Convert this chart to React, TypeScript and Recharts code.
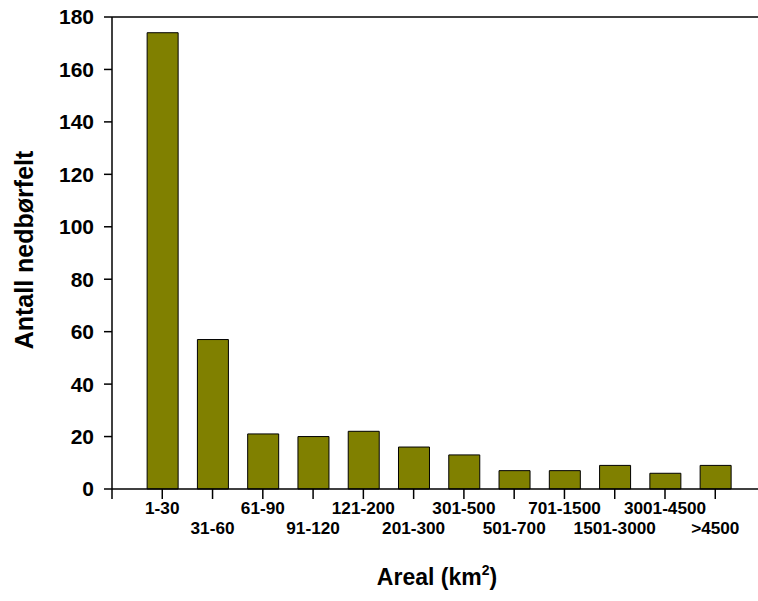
import { Bar, BarChart, Label, ReferenceLine, XAxis, YAxis } from "recharts"

const categories = ["1-30", "31-60", "61-90", "91-120", "121-200", "201-300", "301-500", "501-700", "701-1500", "1501-3000", "3001-4500", ">4500"]
const counts = [174, 57, 21, 20, 22, 16, 13, 7, 7, 9, 6, 9]
const xTicks = [0, 1, 2, 3, 4, 5, 6, 7, 8, 9, 10, 11, 12]
const yTicks = [0, 20, 40, 60, 80, 100, 120, 140, 160, 180]

const data = categories.map((name, i) => ({ pos: i + 1, name, value: counts[i] }))

const font = "'Liberation Sans', Arial, sans-serif"

function XTick(props: any) {
  const { x, y, payload } = props
  const label = categories[payload.value - 1]
  if (!label) return null
  const row = (payload.value - 1) % 2
  return (
    <text x={x} y={y + 13 + row * 20} textAnchor="middle" fontFamily={font} fontWeight="bold" fontSize={17.2} fill="#000">
      {label}
    </text>
  )
}

function XTitle(props: any) {
  const vb = props.viewBox
  const cx = vb.x + vb.width / 2 + 2
  return (
    <text x={cx} y={585} textAnchor="middle" fontFamily={font} fontWeight="bold" fontSize={23} fill="#000">
      Areal (km<tspan dy={-10} fontSize={14}>2</tspan><tspan dy={10}>)</tspan>
    </text>
  )
}

function YTitle(props: any) {
  const vb = props.viewBox
  const cy = vb.y + vb.height / 2 - 3
  return (
    <text x={24} y={cy} transform={`rotate(-90, 24, ${cy})`} textAnchor="middle" dominantBaseline="central" fontFamily={font} fontWeight="bold" fontSize={25} fill="#000">
      Antall nedbørfelt
    </text>
  )
}

export default function App() {
  return (
    <div style={{ position: "absolute", left: 0, top: 0, background: "#fff" }}>
      <BarChart width={758} height={601} data={data} margin={{ top: 17, right: 0, bottom: 0, left: 0 }}>
        <XAxis
          dataKey="pos"
          type="number"
          domain={[0, 12.85]}
          ticks={xTicks}
          interval={0}
          height={112}
          stroke="#000"
          strokeWidth={1.5}
          tickSize={10}
          tick={<XTick />}
        >
          <Label content={<XTitle />} />
        </XAxis>
        <YAxis
          type="number"
          domain={[0, 180]}
          ticks={yTicks}
          interval={0}
          width={112}
          stroke="#000"
          strokeWidth={1.5}
          tickSize={8}
          tickMargin={10}
          tick={{ fill: "#000", fontFamily: font, fontWeight: "bold", fontSize: 21 }}
        >
          <Label content={<YTitle />} />
        </YAxis>
        <ReferenceLine y={180} stroke="#000" strokeWidth={1.5} />
        <Bar dataKey="value" fill="#808000" stroke="#000" strokeWidth={1} barSize={31} isAnimationActive={false} />
      </BarChart>
    </div>
  )
}
